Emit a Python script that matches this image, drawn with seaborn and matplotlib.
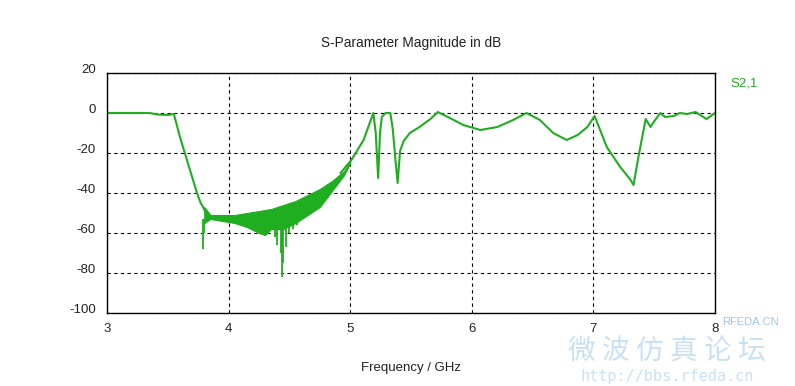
import matplotlib
matplotlib.use("Agg")
import matplotlib.pyplot as plt
import seaborn as sns
import numpy as np
import pandas as pd

# ---- data ----
# main trace before the ripple band
x_pre = [3.00, 3.20, 3.35, 3.42, 3.50, 3.55, 3.60, 3.65, 3.70, 3.74, 3.77, 3.79, 3.82, 3.85]
y_pre = [0.0, 0.0, 0.0, -0.8, -1.0, -0.5, -12, -22, -32, -40, -45, -47, -51, -52]

# ripple band envelope (dense ringing region)
x_band = [3.80, 3.85, 3.95, 4.05, 4.15, 4.25, 4.30, 4.35, 4.45, 4.55, 4.65, 4.75, 4.85, 4.95, 5.00]
band_upper = [-47, -51, -51, -51, -50, -49, -48.5, -48, -46, -44, -41, -38, -34, -29, -24]
band_lower = [-55, -53, -54, -55, -57, -60, -61, -58, -58, -55, -51, -47, -39, -31, -25]

# deep spikes inside the band
spike_x = [3.79, 3.80, 4.38, 4.40, 4.43, 4.44, 4.45, 4.47, 4.50, 4.53, 4.56, 4.60, 4.64, 4.68, 4.72]
spike_y = [-68, -60, -62, -66, -70, -82, -75, -67, -60, -58, -56, -53, -50, -49, -47]

# main trace after the ripple band
x_post = [4.92, 5.01, 5.11, 5.19, 5.21, 5.23, 5.245, 5.26, 5.29, 5.33, 5.35, 5.37, 5.39, 5.41,
          5.44, 5.49, 5.57, 5.66, 5.72, 5.82, 5.93, 6.07, 6.21, 6.34, 6.45, 6.56, 6.67,
          6.78, 6.87, 6.95, 7.01, 7.11, 7.22, 7.30, 7.33, 7.37, 7.43, 7.47, 7.49, 7.55,
          7.59, 7.66, 7.71, 7.77, 7.84, 7.93, 8.00]
y_post = [-30, -23.5, -13.5, 0.0, -10, -32.5, -10, -2, 0.0, 0.0, -8, -22, -35, -19,
          -14, -10, -7, -3, 0.5, -2.5, -6, -8.5, -7, -3.5, 0.0, -3.5, -10,
          -13.5, -11, -7, -1.5, -17, -27, -33, -36, -22, -3, -7, -5, 0.0,
          -2, -1.5, 0.0, -0.5, 0.5, -3, 0.0]

xticks = [3, 4, 5, 6, 7, 8]
yticks = [-100, -80, -60, -40, -20, 0, 20]
title = "S-Parameter Magnitude in dB"
xlabel = "Frequency / GHz"
trace_name = "S2,1"

# ---- figure ----
sns.set_style("white")
plt.rcParams['font.family'] = ['Liberation Sans', 'DejaVu Sans']

green = "#1fae1f"
fig = plt.figure(figsize=(7.95, 3.86), dpi=100)
ax = fig.add_axes([107/795, 1-313/386, (715-107)/795, (313-73)/386])

df_pre = pd.DataFrame({"f": x_pre, "db": y_pre})
df_post = pd.DataFrame({"f": x_post, "db": y_post})
sns.lineplot(data=df_pre, x="f", y="db", ax=ax, color=green, lw=1.5, sort=False, estimator=None)
ax.fill_between(x_band, band_lower, band_upper, color=green, lw=0.8, alpha=1.0)
ax.vlines(spike_x, np.interp(spike_x, x_band, band_lower) + 2, spike_y, color=green, lw=1.3)
sns.lineplot(data=df_post, x="f", y="db", ax=ax, color=green, lw=1.5, sort=False, estimator=None)

ax.set_xlim(3, 8)
ax.set_ylim(-100, 20)
ax.set_xticks(xticks)
ax.set_yticks(yticks)
ax.set_xticklabels([str(v) for v in xticks], fontsize=9.5, color="#222222")
ax.set_yticklabels([str(v) for v in yticks], fontsize=9.5, color="#222222")
ax.tick_params(axis='both', direction='out', length=5, width=0.9, color='black', pad=2)
ax.tick_params(axis='y', pad=3)
for lab in ax.get_yticklabels():
    lab.set_verticalalignment('baseline')
ax.grid(True, color='black', linestyle=(0, (3, 3)), linewidth=0.8)
for s in ax.spines.values():
    s.set_color('black')
    s.set_linewidth(1.0)
ax.set_xlabel(xlabel, fontsize=9.5, labelpad=20, color="#222222")
ax.set_ylabel("")
fig.text(0.5 * (107 + 715) / 795, 1 - 43/386, title, ha='center', va='center', fontsize=9.8, color="#222222")
fig.text(730/795, 1 - 84/386, trace_name, ha='left', va='center', fontsize=9.5, color=green)

# faint watermark
fig.text(750/795, 1 - 322/386, "RFEDA.CN", fontsize=8, color="#9ec7e6", ha='center', va='center')
fig.text(667/795, 1 - 352/386, "微 波 仿 真 论 坛", fontsize=20, color="#c9e1f3", ha='center', va='center',
         family=['Noto Sans CJK SC', 'DejaVu Sans'])
fig.text(667/795, 1 - 377/386, "http://bbs.rfeda.cn", fontsize=11, color="#c9e1f3", ha='center', va='center',
         family=['DejaVu Sans Mono', 'DejaVu Sans'])

fig.savefig("out.png", dpi=100, facecolor='white')
